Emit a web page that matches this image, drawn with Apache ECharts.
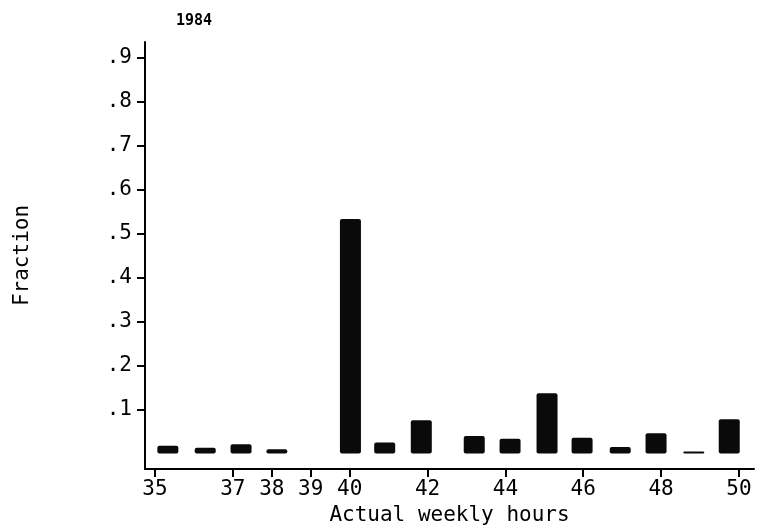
<!DOCTYPE html>
<html>
<head>
<meta charset="utf-8">
<script src="https://cdn.jsdelivr.net/npm/echarts@6/dist/echarts.min.js"></script>
<style>html,body{margin:0;padding:0;background:#fff}#c{width:764px;height:525px}</style>
</head>
<body>
<div id="c"></div>
<script>
// Actual weekly hours (bin centres) and fraction of workers
var hours = [35.33, 36.29, 37.21, 38.13, 40.02, 40.90, 41.84, 43.20, 44.12, 45.07, 45.97, 46.95, 47.87, 48.84, 49.75];
var fraction = [0.018, 0.013, 0.021, 0.010, 0.533, 0.025, 0.076, 0.040, 0.034, 0.137, 0.036, 0.015, 0.046, 0.005, 0.078];
var xTicks = [35, 37, 38, 39, 40, 42, 44, 46, 48, 50];
var yTicks = [0.1, 0.2, 0.3, 0.4, 0.5, 0.6, 0.7, 0.8, 0.9];
var titleText = '1984';
var xName = 'Actual weekly hours';
var yName = 'Fraction';

var font = 'DejaVu Sans Mono';
var txt = {fontFamily: font, fontSize: 21, fontWeight: 'normal', color: '#000'};
var chart = echarts.init(document.getElementById('c'), null, {renderer: 'canvas'});
chart.setOption({
  animation: false,
  backgroundColor: '#fff',
  title: {text: titleText, left: 171, top: 9, textStyle: {fontFamily: font, fontSize: 15, fontWeight: 'bold', color: '#000'}},
  grid: {left: 145, right: 10, top: 42, bottom: 56, containLabel: false, outerBoundsMode: 'none'},
  xAxis: {
    type: 'value', min: 34.743, max: 50.386,
    name: xName, nameLocation: 'middle', nameGap: 34,
    nameTextStyle: txt,
    axisLine: {onZero: false, lineStyle: {color: '#000', width: 2}},
    axisTick: {customValues: xTicks, length: 8, lineStyle: {color: '#000', width: 2}},
    axisLabel: Object.assign({customValues: xTicks, margin: 10}, txt),
    splitLine: {show: false}
  },
  yAxis: {
    type: 'value', min: -0.035, max: 0.935,
    name: yName, nameLocation: 'middle', nameGap: 112, nameRotate: 90,
    nameTextStyle: txt,
    axisLine: {lineStyle: {color: '#000', width: 2}},
    axisTick: {customValues: yTicks, length: 8, lineStyle: {color: '#000', width: 2}},
    axisLabel: Object.assign({customValues: yTicks, margin: 13,
      formatter: function (v) { return String(Math.round(v * 10) / 10).replace(/^0/, ''); }}, txt),
    splitLine: {show: false}
  },
  series: [{
    type: 'bar',
    data: hours.map(function (h, i) { return [h, fraction[i]]; }),
    barWidth: 21,
    itemStyle: {color: '#0a0a0a', borderRadius: 2}
  }]
});
</script>
</body>
</html>
